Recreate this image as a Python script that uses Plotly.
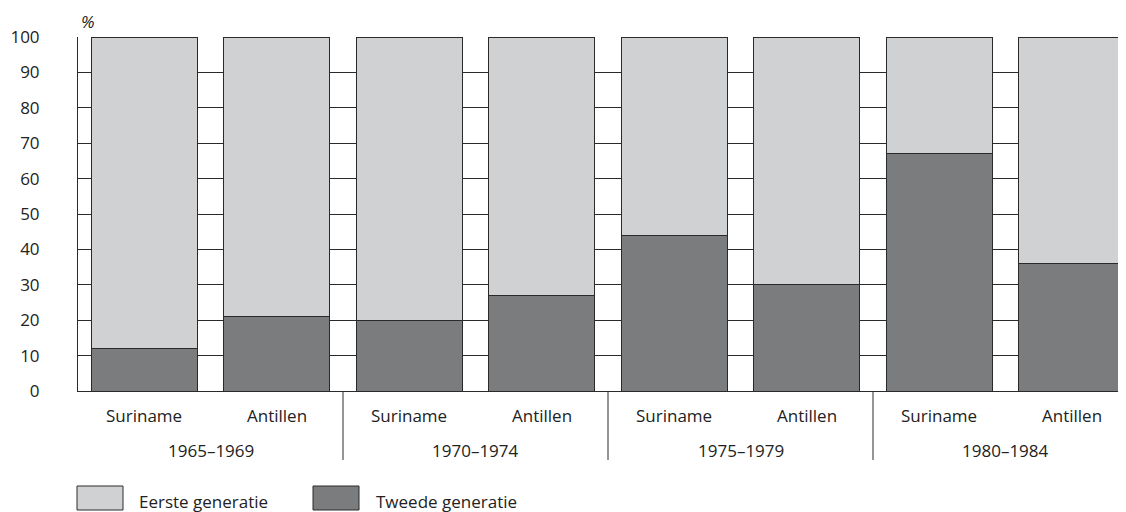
import plotly.graph_objects as go

groups = ["1965–1969", "1970–1974", "1975–1979", "1980–1984"]
origins = ["Suriname", "Antillen"]
tweede = [12, 21, 20, 27, 44, 30, 67, 36]
eerste = [100 - v for v in tweede]
y_ticks = [0, 10, 20, 30, 40, 50, 60, 70, 80, 90, 100]

x_pos = list(range(len(tweede)))
cat_labels = [origins[i % 2] for i in x_pos]

LIGHT = "#d0d1d3"
DARK = "#7b7c7e"
EDGE = "#2a2a2a"
FONT = "Open Sans"
TXT = "#222222"
FS = 17

OFF = 8  # browser body margin
plot_h = 354.0
def py(pix):
    return (391 - pix) / plot_h

annotations = []
for i, lab in enumerate(cat_labels):
    annotations.append(dict(x=i, y=py(415), xref="x", yref="paper", text=lab,
                            showarrow=False, yanchor="middle",
                            font=dict(family=FONT, size=FS, color=TXT)))
for g, lab in enumerate(groups):
    annotations.append(dict(x=2 * g + 0.5, y=py(450), xref="x", yref="paper", text=lab,
                            showarrow=False, yanchor="middle",
                            font=dict(family=FONT, size=FS, color=TXT)))
annotations.append(dict(x=-0.5, y=py(22), xref="x", yref="paper", text="<i>%</i>",
                        showarrow=False, xanchor="left", xshift=1, yanchor="middle",
                        font=dict(family=FONT, size=17, color=TXT)))

shapes = []
for g in range(1, len(groups)):
    xs = 2 * g - 0.5
    shapes.append(dict(type="line", xref="x", yref="paper", x0=xs, x1=xs,
                       y0=0, y1=py(460), line=dict(color=EDGE, width=1)))

# legend (manual)
leg = [("Eerste generatie", LIGHT, 77, 137), ("Tweede generatie", DARK, 313, 374)]
PW = 1048.0
for text, col, bx, tx in leg:
    shapes.append(dict(type="rect", xref="paper", yref="paper",
                       x0=(bx - 78) / PW, x1=(bx + 46 - 78) / PW,
                       y0=py(510), y1=py(486), fillcolor=col,
                       line=dict(color=EDGE, width=1)))
    annotations.append(dict(x=(tx - 78) / PW, y=py(512), xref="paper", yref="paper",
                            text=text, showarrow=False, xanchor="left", yanchor="bottom",
                            yshift=-3,
                            font=dict(family=FONT, size=FS, color=TXT)))

fig = go.Figure()
fig.add_trace(go.Bar(x=x_pos, y=tweede, name="Tweede generatie",
                     marker=dict(color=DARK, line=dict(color=EDGE, width=1))))
fig.add_trace(go.Bar(x=x_pos, y=eerste, name="Eerste generatie",
                     marker=dict(color=LIGHT, line=dict(color=EDGE, width=1))))

fig.update_layout(
    width=1126 - OFF, height=512 - OFF,
    margin=dict(l=78 - OFF, r=0, t=37 - OFF, b=121, pad=0),
    barmode="stack", bargap=0.2,
    plot_bgcolor="white", paper_bgcolor="white",
    showlegend=False,
    annotations=annotations, shapes=shapes,
    font=dict(family=FONT, size=FS, color=TXT),
    xaxis=dict(range=[-0.5, -0.5 + PW / 132.5], showticklabels=False, ticks="",
               showgrid=False, zeroline=False, showline=True, linecolor=EDGE,
               linewidth=1, fixedrange=True),
    yaxis=dict(range=[0, 100], tickvals=y_ticks, showgrid=True, gridcolor=EDGE,
               gridwidth=1, zeroline=False, showline=True, linecolor=EDGE, linewidth=1,
               ticks="", ticklabelstandoff=34, tickfont=dict(family=FONT, size=FS, color=TXT),
               fixedrange=True),
)

fig.write_html("out.html")
